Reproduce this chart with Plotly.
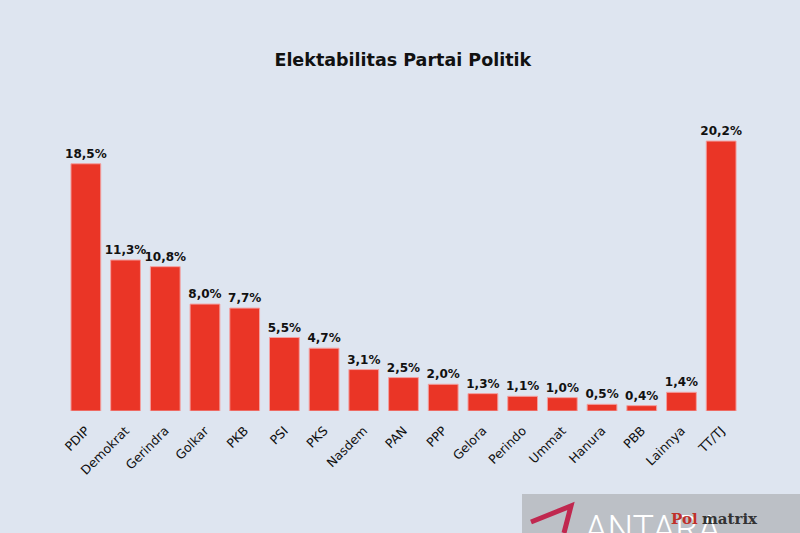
import plotly.graph_objects as go

parties = ["PDIP", "Demokrat", "Gerindra", "Golkar", "PKB", "PSI", "PKS", "Nasdem",
           "PAN", "PPP", "Gelora", "Perindo", "Ummat", "Hanura", "PBB", "Lainnya", "TT/TJ"]
values = [18.5, 11.3, 10.8, 8.0, 7.7, 5.5, 4.7, 3.1, 2.5, 2.0, 1.3, 1.1, 1.0, 0.5, 0.4, 1.4, 20.2]
labels = [f"{v:.1f}".replace(".", ",") + "%" for v in values]

bg = "#dee5f0"
fig = go.Figure(go.Bar(
    x=parties, y=values, text=labels, textposition="outside", cliponaxis=False,
    constraintext="none",
    textfont=dict(family="DejaVu Sans", size=12, color="#111111", weight="bold"),
    marker=dict(color="#ea3526", line=dict(color="#f3a0a0", width=1)),
))
fig.update_layout(
    width=800, height=533,
    paper_bgcolor=bg, plot_bgcolor=bg,
    margin=dict(l=66, r=59, t=117, b=122),
    bargap=0.25,
    title=dict(text="<b>Elektabilitas Partai Politik</b>", x=0.5035, xanchor="center",
               y=0.887, yanchor="middle",
               font=dict(family="DejaVu Sans", size=17.5, color="#111111")),
    xaxis=dict(tickangle=-45, showgrid=False, showline=False, ticks="",
               ticklabelstandoff=9,
               tickfont=dict(family="DejaVu Sans", size=12.5, color="#111111")),
    yaxis=dict(range=[0, 22], visible=False, showgrid=False),
    showlegend=False,
    font=dict(family="DejaVu Sans"),
)
# watermark-like logo box at bottom right
fig.add_shape(type="rect", xref="paper", yref="paper", x0=(522-66)/675, x1=(800-66)/675,
              y0=-122/294, y1=-(494-411)/294, fillcolor="#bcc0c6", line=dict(width=0), layer="above")
fig.add_shape(type="path", xref="paper", yref="paper",
              path=f"M {(531-66)/675},{-(522-411)/294} L {(571-66)/675},{-(506-411)/294} "
                   f"L {(564-66)/675},{-(533-411)/294}",
              line=dict(color="#c0284f", width=5), layer="above")
fig.add_annotation(xref="paper", yref="paper", x=(583-66)/675, y=-(506-411)/294, text="ANTARA",
                   showarrow=False, xanchor="left", yanchor="top",
                   font=dict(family="Roboto", size=36, color="#ffffff", weight=300))
fig.add_annotation(xref="paper", yref="paper", x=(669-66)/675, y=-(519-411)/294, text="<b>Pol</b>",
                   showarrow=False, xanchor="left", yanchor="middle",
                   font=dict(family="DejaVu Serif", size=15, color="#c0302a"))
fig.add_annotation(xref="paper", yref="paper", x=(700-66)/675, y=-(519-411)/294, text="<b>matrix</b>",
                   showarrow=False, xanchor="left", yanchor="middle",
                   font=dict(family="DejaVu Serif", size=15, color="#333333"))
fig.write_html("out.html", config={"displayModeBar": False},
               post_script="document.body.style.margin='0';document.body.style.overflow='hidden';")
